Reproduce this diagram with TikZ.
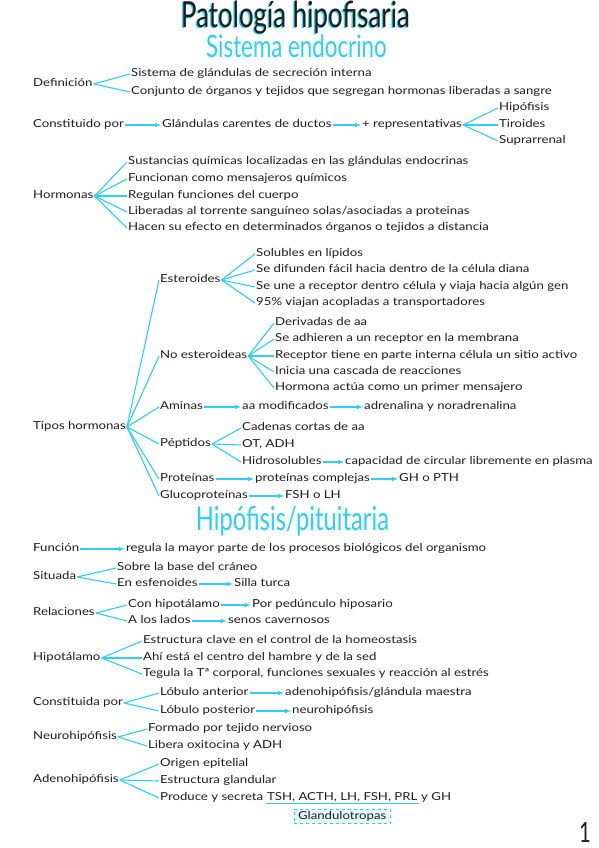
\documentclass[tikz,border=0pt]{standalone}
\usepackage{fontspec}
\setmainfont{Lato}[FakeStretch=1.2]
\newfontfamily\titulofont{Lato}
\usetikzlibrary{arrows}
\usetikzlibrary{positioning}
\definecolor{celeste}{RGB}{45, 207, 245}
\definecolor{celestefondo}{RGB}{228, 249, 254}
\definecolor{tinta}{RGB}{30, 30, 30}

\tikzset{
  txt/.style={anchor=west, inner sep=1pt, text height=1.5ex, text depth=.35ex,
              font=\fontsize{11}{12}\selectfont, text=tinta},
  rama/.style={celeste, line width=1.1pt},
  flecha/.style={celeste, line width=1.1pt, -latex},
  titulo/.style={inner sep=0pt, anchor=base, xscale=.72, transform shape},
}

\begin{document}
\begin{tikzpicture}[x=1pt, y=-1pt]
            \useasboundingbox[fill=white] (0,0) rectangle (599,848);
            % titulos
            \node[titulo, text=celeste, font=\titulofont\fontsize{36}{36}\selectfont] (tituloSombra) at (294.20, 28.80) {Patología hipofisaria};
            \node[titulo, text=tinta,   font=\titulofont\fontsize{36}{36}\selectfont] (titulo)       at (295.50, 28.00) {Patología hipofisaria};
            \node[titulo, text=celeste, font=\titulofont\fontsize{31}{31}\selectfont] (sistema)      at (296.50, 58.00) {Sistema endocrino};
            \node[titulo, text=celeste, font=\titulofont\fontsize{33}{33}\selectfont] (hipofisis)    at (292.50, 530.00) {Hipófisis/pituitaria};

            % definicion
            \node[txt] (def)     at ( 32.00,  84.00) {Definición};
            \node[txt] (def1)    at (130.00,  74.00) {Sistema de glándulas de secreción interna};
            \node[txt] (def2)    at (130.00,  92.00) {Conjunto de órganos y tejidos que segregan hormonas liberadas a sangre};
            \foreach \n in {def1,def2} \draw[rama] (def.east) -- (\n.west);

            % constituido por
            \node[txt] (cons)    at ( 32.00, 125.00) {Constituido por};
            \node[txt] (glan)    at (161.00, 125.00) {Glándulas carentes de ductos};
            \node[txt] (repr)    at (361.00, 125.00) {+ representativas};
            \node[txt] (hipo)    at (498.00, 108.00) {Hipófisis};
            \node[txt] (tiro)    at (498.00, 125.00) {Tiroides};
            \node[txt] (supr)    at (498.00, 141.00) {Suprarrenal};
            \draw[flecha] (cons) -- (glan);
            \draw[flecha] (glan) -- (repr);
            \foreach \n in {hipo,tiro,supr} \draw[rama] (repr.east) -- (\n.west);

            % hormonas
            \node[txt] (horm)    at ( 32.00, 196.00) {Hormonas};
            \node[txt] (horm1)   at (127.00, 162.00) {Sustancias químicas localizadas en las glándulas endocrinas};
            \node[txt] (horm2)   at (127.00, 179.00) {Funcionan como mensajeros químicos};
            \node[txt] (horm3)   at (127.00, 196.00) {Regulan funciones del cuerpo};
            \node[txt] (horm4)   at (127.00, 212.00) {Liberadas al torrente sanguíneo solas/asociadas a proteinas};
            \node[txt] (horm5)   at (127.00, 228.00) {Hacen su efecto en determinados órganos o tejidos a distancia};
            \foreach \n in {horm1,horm2,horm3,horm4,horm5} \draw[rama] (horm.east) -- (\n.west);

            % tipos hormonas
            \node[txt] (tipos)   at ( 32.00, 427.00) {Tipos hormonas};
            \node[txt] (este)    at (159.00, 280.00) {Esteroides};
            \node[txt] (noes)    at (159.00, 356.00) {No esteroideas};
            \node[txt] (amin)    at (159.00, 407.00) {Aminas};
            \node[txt] (pept)    at (159.00, 444.00) {Péptidos};
            \node[txt] (prot)    at (159.00, 479.00) {Proteínas};
            \node[txt] (gluc)    at (159.00, 496.00) {Glucoproteínas};
            \foreach \n in {este,noes,amin,pept,prot,gluc} \draw[rama] (tipos.east) -- (\n.west);

            \node[txt] (este1)   at (255.00, 254.00) {Solubles en lípidos};
            \node[txt] (este2)   at (255.00, 270.00) {Se difunden fácil hacia dentro de la célula diana};
            \node[txt] (este3)   at (255.00, 287.00) {Se une a receptor dentro célula y viaja hacia algún gen};
            \node[txt] (este4)   at (255.00, 303.00) {95\% viajan acopladas a transportadores};
            \foreach \n in {este1,este2,este3,este4} \draw[rama] (este.east) -- (\n.west);

            \node[txt] (noes1)   at (274.00, 323.00) {Derivadas de aa};
            \node[txt] (noes2)   at (274.00, 339.00) {Se adhieren a un receptor en la membrana};
            \node[txt] (noes3)   at (274.00, 356.00) {Receptor tiene en parte interna célula un sitio activo};
            \node[txt] (noes4)   at (274.00, 372.00) {Inicia una cascada de reacciones};
            \node[txt] (noes5)   at (274.00, 388.00) {Hormona actúa como un primer mensajero};
            \foreach \n in {noes1,noes2,noes3,noes4,noes5} \draw[rama] (noes.east) -- (\n.west);

            \node[txt] (amin1)   at (241.00, 407.00) {aa modificados};
            \node[txt] (amin2)   at (363.00, 407.00) {adrenalina y noradrenalina};
            \draw[flecha] (amin) -- (amin1);
            \draw[flecha] (amin1) -- (amin2);

            \node[txt] (pept1)   at (241.00, 428.00) {Cadenas cortas de aa};
            \node[txt] (pept2)   at (241.00, 445.00) {OT, ADH};
            \node[txt] (pept3)   at (241.00, 462.00) {Hidrosolubles};
            \node[txt] (pept4)   at (344.00, 462.00) {capacidad de circular libremente en plasma};
            \foreach \n in {pept1,pept2,pept3} \draw[rama] (pept.east) -- (\n.west);
            \draw[flecha] (pept3) -- (pept4);

            \node[txt] (prot1)   at (254.00, 479.00) {proteínas complejas};
            \node[txt] (prot2)   at (398.00, 479.00) {GH o PTH};
            \draw[flecha] (prot) -- (prot1);
            \draw[flecha] (prot1) -- (prot2);

            \node[txt] (gluc1)   at (284.00, 496.00) {FSH o LH};
            \draw[flecha] (gluc) -- (gluc1);

            % hipofisis
            \node[txt] (func)    at ( 32.00, 549.00) {Función};
            \node[txt] (func1)   at (125.00, 549.00) {regula la mayor parte de los procesos biológicos del organismo};
            \draw[flecha] (func) -- (func1);

            \node[txt] (situ)    at ( 32.00, 577.00) {Situada};
            \node[txt] (situ1)   at (116.00, 568.00) {Sobre la base del cráneo};
            \node[txt] (situ2)   at (116.00, 584.00) {En esfenoides};
            \node[txt] (situ3)   at (233.00, 584.00) {Silla turca};
            \foreach \n in {situ1,situ2} \draw[rama] (situ.east) -- (\n.west);
            \draw[flecha] (situ2) -- (situ3);

            \node[txt] (rela)    at ( 32.00, 613.00) {Relaciones};
            \node[txt] (rela1)   at (127.00, 605.00) {Con hipotálamo};
            \node[txt] (rela2)   at (251.00, 605.00) {Por pedúnculo hiposario};
            \node[txt] (rela3)   at (127.00, 621.00) {A los lados};
            \node[txt] (rela4)   at (227.00, 621.00) {senos cavernosos};
            \foreach \n in {rela1,rela3} \draw[rama] (rela.east) -- (\n.west);
            \draw[flecha] (rela1) -- (rela2);
            \draw[flecha] (rela3) -- (rela4);

            \node[txt] (hipt)    at ( 32.00, 658.00) {Hipotálamo};
            \node[txt] (hipt1)   at (142.00, 641.00) {Estructura clave en el control de la homeostasis};
            \node[txt] (hipt2)   at (142.00, 658.00) {Ahí está el centro del hambre y de la sed};
            \node[txt] (hipt3)   at (142.00, 674.00) {Tegula la Tª corporal, funciones sexuales y reacción al estrés};
            \foreach \n in {hipt1,hipt2,hipt3} \draw[rama] (hipt.east) -- (\n.west);

            \node[txt] (cnst)    at ( 32.00, 703.00) {Constituida por};
            \node[txt] (cnst1)   at (159.00, 693.00) {Lóbulo anterior};
            \node[txt] (cnst2)   at (284.00, 693.00) {adenohipófisis/glándula maestra};
            \node[txt] (cnst3)   at (159.00, 711.00) {Lóbulo posterior};
            \node[txt] (cnst4)   at (291.00, 711.00) {neurohipófisis};
            \foreach \n in {cnst1,cnst3} \draw[rama] (cnst.east) -- (\n.west);
            \draw[flecha] (cnst1) -- (cnst2);
            \draw[flecha] (cnst3) -- (cnst4);

            \node[txt] (neur)    at ( 32.00, 737.00) {Neurohipófisis};
            \node[txt] (neur1)   at (147.00, 729.00) {Formado por tejido nervioso};
            \node[txt] (neur2)   at (147.00, 746.00) {Libera oxitocina y ADH};
            \foreach \n in {neur1,neur2} \draw[rama] (neur.east) -- (\n.west);

            \node[txt] (aden)    at ( 32.00, 780.00) {Adenohipófisis};
            \node[txt] (aden1)   at (159.00, 764.00) {Origen epitelial};
            \node[txt] (aden2)   at (159.00, 781.00) {Estructura glandular};
            \node[txt] (aden3)   at (159.00, 798.00) {Produce y secreta};
            \node[txt, right=1.5pt of aden3] (siglas) {TSH, ACTH, LH, FSH, PRL};
            \node[txt, right=1.5pt of siglas] (aden4) {y GH};
            \foreach \n in {aden1,aden2,aden3} \draw[rama] (aden.east) -- (\n.west);
            \draw[rama] (siglas.south west) -- (siglas.south east);
            \node[txt, anchor=north, draw=celeste, dashed, line width=1pt, fill=celestefondo,
                  inner xsep=4pt, inner ysep=2.5pt, below=5pt of siglas] (glandu) {Glandulotropas};

            % numero de pagina
            \node[inner sep=0pt, font=\titulofont\fontsize{28}{28}\selectfont, xscale=.72, transform shape, text=tinta] (pagina) at (585.00, 832.00) {1};
        \end{tikzpicture}
\end{document}
